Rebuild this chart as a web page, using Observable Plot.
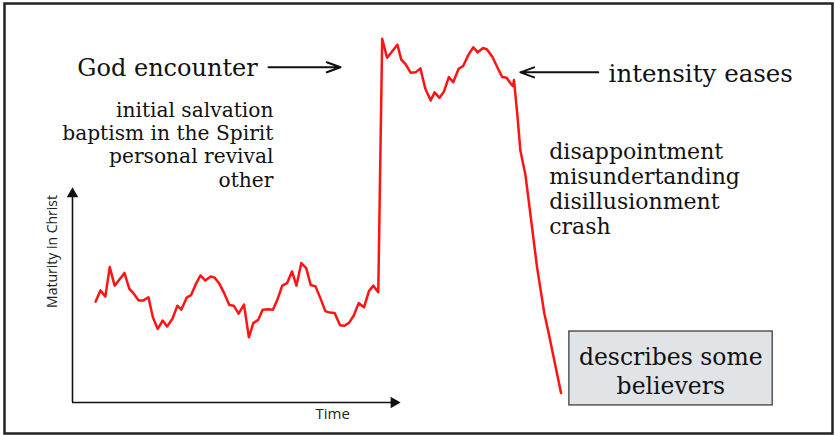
<!DOCTYPE html>
<html>
<head>
<meta charset="utf-8">
<script src="https://cdn.jsdelivr.net/npm/d3@7"></script>
<script src="https://cdn.jsdelivr.net/npm/@observablehq/plot@0.6"></script>
<style>
  html, body { margin: 0; padding: 0; background: #fff; }
</style>
</head>
<body>
<div id="chart"></div>
<script>
// Time (arbitrary units) and "Maturity in Christ" (arbitrary units)
const time = [4.7,5.7,6.7,7.6,8.6,10.6,11.6,12.5,13.5,14.4,15.5,16.4,17.4,18.4,19.3,20.4,21.4,22.2,23.3,24.2,
  25.2,26.1,27.1,28.2,29.0,30.0,31.0,32.0,32.9,33.9,35.0,36.0,36.9,37.9,38.8,39.9,40.9,41.8,42.8,43.8,
  44.8,45.7,46.7,47.7,48.6,49.6,50.6,51.6,52.5,53.5,54.6,55.5,56.5,57.4,58.4,59.5,60.5,61.4,62.4,
  63.2,64.2,66.3,67.1,68.0,69.0,70.0,71.0,72.0,73.1,73.9,74.9,75.8,76.8,77.7,78.8,79.7,80.8,81.8,82.7,
  83.8,84.6,85.7,86.7,87.7,88.6,89.5,89.9,90.1,90.8,91.4,92.4,93.1,94.8,96.3,97.2,99.7];
const maturity = [27.7,30.8,29.1,37.2,32.1,35.6,31.2,29.9,28.0,28.0,28.9,23.4,20.2,22.5,20.9,23.0,26.6,25.5,28.8,29.5,
  32.6,34.9,33.5,34.6,34.3,32.6,29.9,26.8,26.6,24.4,26.9,17.9,21.8,22.7,25.5,25.6,25.5,28.2,32.1,32.8,
  36.0,32.1,38.3,36.9,32.3,31.9,28.6,25.1,24.7,24.6,21.2,21.1,22.0,23.9,27.3,26.2,30.6,32.1,30.3,
  99.9,94.7,98.3,94.2,92.9,90.6,90.7,91.8,86.2,83.0,85.2,83.7,85.4,89.4,88.0,91.7,92.4,95.5,97.6,96.2,
  97.4,97.0,94.9,92.1,89.4,89.2,87.5,86.9,88.6,78.8,69.2,62.8,55.5,37.2,24.4,18.9,2.6];

const yLabel = "Maturity in Christ";
const xLabel = "Time";
const encounterLabel = "God encounter";
const easesLabel = "intensity eases";
const encounterKinds = ["initial salvation", "baptism in the Spirit", "personal revival", "other"];
const crashKinds = ["disappointment", "misundertanding", "disillusionment", "crash"];
const boxLabel = ["describes some", "believers"];

const series = time.map((t, i) => ({t, m: maturity[i]}));
const serif = "'DejaVu Serif', serif";
const sans = "'Open Sans', 'Noto Sans', sans-serif";
const ink = "#111";

const chart = Plot.plot({
  width: 835,
  height: 435,
  marginTop: 0, marginRight: 0, marginBottom: 0, marginLeft: 0,
  x: {domain: [0, 100], range: [72, 562], axis: null},
  y: {domain: [0, 100], range: [402, 38], axis: null},
  style: {background: "#fff"},
  marks: [
    Plot.frame({stroke: "#222", strokeWidth: 2.5, insetLeft: 4, insetTop: 3, insetRight: 3, insetBottom: 2}),
    // axes drawn as arrows
    Plot.ruleX([0], {y1: 0, y2: 57.3, stroke: ink, strokeWidth: 1.6}),
    Plot.ruleY([0], {x1: 0, x2: 65.6, stroke: ink, strokeWidth: 1.6}),
    Plot.dot([0], {x: 0, y: 57.3, symbol: "triangle", r: 4.3, fill: ink, stroke: "none"}),
    Plot.dot([0], {x: 65.6, y: 0, symbol: "triangle", r: 4.3, rotate: 90, fill: ink, stroke: "none"}),
    Plot.text([yLabel], {x: -4.1, y: 41.5, text: d => d, rotate: -90, fontSize: 14, fontFamily: sans, fill: "#222"}),
    Plot.text([xLabel], {x: 53.1, y: -3.3, text: d => d, fontSize: 15, fontFamily: sans, fill: "#222"}),
    // the curve
    Plot.line(series, {x: "t", y: "m", stroke: "#ff1414", strokeWidth: 2.5}),
    // annotations
    Plot.text([encounterLabel], {x: 37.8, y: 91.9, text: d => d, textAnchor: "end", fontSize: 24, fontFamily: serif, fill: ink}),
    Plot.arrow([0], {x1: 40.0, y1: 92.1, x2: 54.7, y2: 92.1, stroke: ink, strokeWidth: 2, headLength: 11, headAngle: 40}),
    Plot.text([easesLabel], {x: 109.4, y: 90.3, text: d => d, textAnchor: "start", fontSize: 24.5, fontFamily: serif, fill: ink}),
    Plot.arrow([0], {x1: 107.3, y1: 90.7, x2: 91.4, y2: 90.7, stroke: ink, strokeWidth: 2, headLength: 11, headAngle: 40}),
    Plot.text([encounterKinds.join("\n")], {x: 41.0, y: 82.8, text: d => d, textAnchor: "end", lineAnchor: "top", lineHeight: 1.14, fontSize: 20.2, fontFamily: serif, fill: ink}),
    Plot.text([crashKinds.join("\n")], {x: 97.3, y: 71.9, text: d => d, textAnchor: "start", lineAnchor: "top", lineHeight: 1.14, fontSize: 22, fontFamily: serif, fill: ink}),
    Plot.rect([0], {x1: 101.4, x2: 142.9, y1: -0.8, y2: 19.5, fill: "#e1e4e7", stroke: "#555", strokeWidth: 1.5}),
    Plot.text([boxLabel.join("\n")], {x: 122.1, y: 15.7, text: d => d, textAnchor: "middle", lineAnchor: "top", lineHeight: 1.2, fontSize: 23.5, fontFamily: serif, fill: ink})
  ]
});
document.getElementById("chart").appendChild(chart);
</script>
</body>
</html>
